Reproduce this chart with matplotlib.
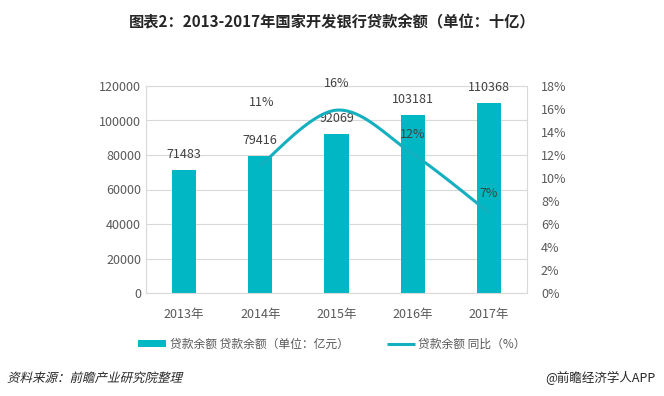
import matplotlib.pyplot as plt
import numpy as np
from matplotlib.font_manager import FontProperties
from matplotlib.patches import PathPatch
from matplotlib.textpath import TextPath
from matplotlib.ticker import FuncFormatter
from matplotlib.transforms import Affine2D

plt.rcParams["font.family"] = ["Noto Sans CJK SC", "DejaVu Sans"]

years = ["2013年", "2014年", "2015年", "2016年", "2017年"]
loans = [71483, 79416, 92069, 103181, 110368]
growth = [11.1, 15.9, 12.1, 7.0]  # % YoY, 2014-2017
growth_labels = ["11%", "16%", "12%", "7%"]

BAR = "#00B7C3"
LINE = "#14B0BF"
TEXT = "#595959"
DARK = "#404040"
GRID = "#D9D9D9"


def smooth(xs, ys, n=40):
    # catmull-rom style curve through the points, like Excel's smoothed line
    xs = np.asarray(xs, float)
    ys = np.asarray(ys, float)
    px = np.concatenate([[xs[0]], xs, [xs[-1]]])
    py = np.concatenate([[ys[0]], ys, [ys[-1]]])
    out_x, out_y = [], []
    t = np.linspace(0, 1, n)
    for i in range(1, len(px) - 2):
        p0, p1, p2, p3 = (np.array([px[j], py[j]]) for j in range(i - 1, i + 3))
        c1 = p1 + (p2 - p0) / 6
        c2 = p2 - (p3 - p1) / 6
        pts = ((1 - t) ** 3)[:, None] * p1 + (3 * (1 - t) ** 2 * t)[:, None] * c1 \
            + (3 * (1 - t) * t ** 2)[:, None] * c2 + (t ** 3)[:, None] * p2
        out_x.extend(pts[:, 0])
        out_y.extend(pts[:, 1])
    return np.array(out_x), np.array(out_y)


fig = plt.figure(figsize=(6.64, 3.96), dpi=100)
ax = fig.add_axes([146 / 664, 103 / 396, 381 / 664, 207 / 396])
x = np.arange(len(years))

ax.bar(x, loans, width=0.32, color=BAR, zorder=2,
       label="贷款余额 贷款余额（单位：亿元）")
for xi, v in zip(x, loans):
    ax.annotate(str(v), (xi, v), xytext=(0, 11), textcoords="offset points",
                ha="center", va="center", fontsize=9, color=DARK)

ax.set_xlim(-0.5, len(years) - 0.5)
ax.set_ylim(0, 120000)
ax.set_yticks(np.arange(0, 120001, 20000))
ax.set_xticks(x)
ax.set_xticklabels(years)
ax.grid(axis="y", color=GRID, linewidth=0.8, zorder=0)
ax.tick_params(length=0, colors=TEXT, labelsize=9)
ax.tick_params(axis="x", pad=11)
for s in ax.spines.values():
    s.set_color(GRID)
    s.set_linewidth(0.8)

ax2 = ax.twinx()
ax2.set_ylim(0, 18)
ax2.set_yticks(np.arange(0, 18.1, 2))
ax2.yaxis.set_major_formatter(FuncFormatter(lambda v, p: f"{v:.0f}%"))
ax2.tick_params(length=0, colors=TEXT, labelsize=9, pad=10)
for s in ax2.spines.values():
    s.set_visible(False)

sx, sy = smooth(x[1:], growth)
ax2.plot(sx, sy, color=LINE, linewidth=2.2, zorder=3, solid_capstyle="butt",
         label="贷款余额 同比（%）")
offsets = [(1, 45), (0, 19), (0, 14), (0, 14)]
for xi, v, lab, off in zip(x[1:], growth, growth_labels, offsets):
    ax2.annotate(lab, (xi, v), xytext=off, textcoords="offset points",
                 ha="center", va="center", fontsize=9, color=DARK)

h1, l1 = ax.get_legend_handles_labels()
h2, l2 = ax2.get_legend_handles_labels()
fig.legend(h1 + h2, l1 + l2, loc="center", bbox_to_anchor=(0.5, 52 / 396),
           ncol=2, frameon=False, fontsize=8.5, labelcolor=TEXT,
           handlelength=2.4, handleheight=0.5, columnspacing=3.2, handletextpad=0.3)

fig.text(0.5, 1 - 22 / 396, "图表2：2013-2017年国家开发银行贷款余额（单位：十亿）",
         ha="center", va="center", fontsize=11, fontweight="bold", color="#262626")

# source note is slanted in the original; CJK font has no italic so shear a text path
src = TextPath((0, 0), "资料来源：前瞻产业研究院整理", size=9,
               prop=FontProperties(family="Noto Sans CJK SC"))
tr = Affine2D().skew_deg(14, 0).scale(1 / 72).translate(7 / 100, 14 / 100) \
    + fig.dpi_scale_trans
fig.patches.append(PathPatch(src, transform=tr, facecolor="#262626",
                             edgecolor="none", figure=fig))
fig.text(656 / 664, 18 / 396, "@前瞻经济学人APP", ha="right", va="center",
         fontsize=9, color="#262626")

fig.savefig("out.png", dpi=100)
